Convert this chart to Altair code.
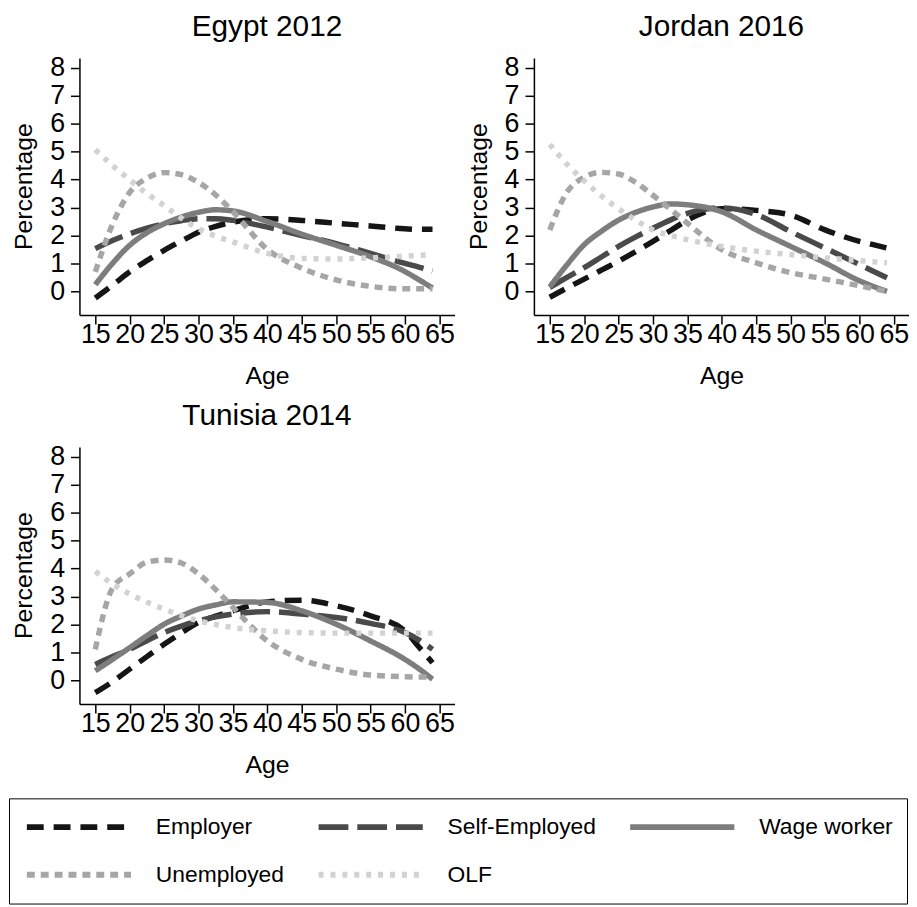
import altair as alt
import pandas as pd

ages = [15, 17.5, 20, 22.5, 25, 27.5, 30, 32.5, 35, 40, 45, 50, 55, 60, 62, 64]
series = ["Employer", "Self-Employed", "Wage worker", "Unemployed", "OLF"]
colors = ["#151515", "#4a4a4a", "#7d7d7d", "#a6a6a6", "#d2d2d2"]
dashes = [[17, 10], [30, 9], [1, 0], [8, 6], [5, 7]]

x_ticks = [15, 20, 25, 30, 35, 40, 45, 50, 55, 60, 65]
y_ticks = [0, 1, 2, 3, 4, 5, 6, 7, 8]

# Egypt 2012
egypt_employer = [-0.24, 0.22, 0.70, 1.10, 1.47, 1.80, 2.12, 2.33, 2.48, 2.60, 2.54, 2.44, 2.34, 2.24, 2.22, 2.22]
egypt_self = [1.53, 1.82, 2.06, 2.26, 2.42, 2.53, 2.60, 2.60, 2.54, 2.30, 2.00, 1.71, 1.36, 1.00, 0.87, 0.73]
egypt_wage = [0.24, 1.00, 1.65, 2.10, 2.42, 2.66, 2.83, 2.92, 2.88, 2.50, 2.05, 1.65, 1.24, 0.71, 0.42, 0.12]
egypt_unemp = [0.70, 2.40, 3.54, 4.05, 4.25, 4.18, 3.90, 3.45, 2.85, 1.50, 0.83, 0.41, 0.18, 0.09, 0.09, 0.09]
egypt_olf = [5.07, 4.50, 4.00, 3.50, 3.07, 2.62, 2.24, 1.98, 1.77, 1.36, 1.18, 1.16, 1.20, 1.26, 1.29, 1.32]

# Jordan 2016
jordan_employer = [-0.21, 0.12, 0.44, 0.76, 1.08, 1.43, 1.79, 2.17, 2.55, 2.96, 2.90, 2.73, 2.20, 1.79, 1.67, 1.55]
jordan_self = [0.14, 0.50, 0.85, 1.23, 1.61, 1.95, 2.26, 2.55, 2.79, 2.99, 2.75, 2.14, 1.55, 0.96, 0.72, 0.49]
jordan_wage = [0.16, 0.95, 1.67, 2.15, 2.55, 2.83, 3.02, 3.13, 3.10, 2.85, 2.20, 1.61, 1.02, 0.38, 0.18, 0.00]
jordan_unemp = [2.20, 3.55, 4.08, 4.26, 4.20, 3.90, 3.44, 2.95, 2.44, 1.49, 1.02, 0.67, 0.44, 0.20, 0.10, 0.00]
jordan_olf = [5.26, 4.55, 3.96, 3.42, 2.96, 2.55, 2.20, 2.00, 1.85, 1.61, 1.44, 1.32, 1.20, 1.10, 1.06, 1.02]

# Tunisia 2014
tunisia_employer = [-0.44, -0.05, 0.40, 0.85, 1.29, 1.70, 2.07, 2.30, 2.49, 2.81, 2.87, 2.67, 2.31, 1.77, 1.20, 0.63]
tunisia_self = [0.57, 0.85, 1.11, 1.42, 1.71, 1.94, 2.13, 2.27, 2.37, 2.46, 2.37, 2.25, 2.04, 1.71, 1.45, 1.11]
tunisia_wage = [0.34, 0.75, 1.17, 1.60, 2.01, 2.30, 2.55, 2.70, 2.81, 2.79, 2.49, 2.01, 1.41, 0.75, 0.42, 0.04]
tunisia_unemp = [1.11, 3.30, 3.81, 4.23, 4.31, 4.20, 3.81, 3.25, 2.61, 1.41, 0.75, 0.40, 0.19, 0.13, 0.12, 0.12]
tunisia_olf = [3.90, 3.45, 3.09, 2.80, 2.55, 2.32, 2.13, 2.00, 1.89, 1.77, 1.71, 1.69, 1.69, 1.69, 1.69, 1.69]

panels = {
    "Egypt 2012": [egypt_employer, egypt_self, egypt_wage, egypt_unemp, egypt_olf],
    "Jordan 2016": [jordan_employer, jordan_self, jordan_wage, jordan_unemp, jordan_olf],
    "Tunisia 2014": [tunisia_employer, tunisia_self, tunisia_wage, tunisia_unemp, tunisia_olf],
}

rows = []
for country, lists in panels.items():
    for s, vals in zip(series, lists):
        for a, v in zip(ages, vals):
            rows.append({"country": country, "series": s, "age": a, "value": v})
df = pd.DataFrame(rows)

FONT = "Liberation Sans"

legend = alt.Legend(
    title=None,
    orient="none",
    direction="horizontal",
    legendX=-71,
    legendY=746,
    columns=3,
    symbolType="stroke",
    symbolSize=11025,
    symbolStrokeWidth=6,
    clipHeight=30,
    symbolOffset=1,
    labelOffset=22,
    columnPadding=30,
    rowPadding=18,
    padding=14,
    strokeColor="black",
    labelFont=FONT,
    labelFontSize=23,
    labelColor="black",
    labelLimit=400,
)


def panel(country):
    return (
        alt.Chart(df[df["country"] == country])
        .mark_line(strokeWidth=5.5, strokeCap="butt", interpolate="monotone")
        .encode(
            x=alt.X(
                "age:Q",
                scale=alt.Scale(domain=[12.7, 67.2], nice=False, zero=False),
                axis=alt.Axis(values=x_ticks, title="Age", titleY=69),
            ),
            y=alt.Y(
                "value:Q",
                scale=alt.Scale(domain=[-0.85, 8.35], nice=False, zero=False),
                axis=alt.Axis(values=y_ticks, title="Percentage", titleX=-48, titleY=129),
            ),
            color=alt.Color("series:N", scale=alt.Scale(domain=series, range=colors), legend=legend),
            strokeDash=alt.StrokeDash("series:N", scale=alt.Scale(domain=series, range=dashes), legend=legend),
        )
        .properties(width=378, height=259, title=alt.Title(country))
    )


chart = (
    alt.concat(
        panel("Egypt 2012"),
        panel("Jordan 2016"),
        panel("Tunisia 2014"),
        columns=2,
        spacing={"row": 133, "column": 80},
        bounds="flush",
    )
    .resolve_scale(color="shared", strokeDash="shared")
    .resolve_legend(color="shared", strokeDash="shared")
    .properties(padding=0)
    .configure_view(stroke=None)
    .configure_axis(
        grid=False,
        domainColor="black",
        domainWidth=1.5,
        tickColor="black",
        tickWidth=1.5,
        tickSize=9,
        labelFont=FONT,
        labelFontSize=27,
        labelColor="black",
        labelOverlap=False,
        labelFlush=False,
        titleFont=FONT,
        titleFontSize=25,
        titleFontWeight="normal",
        titleColor="black",
        titleBaseline="alphabetic",
    )
    .configure_axisX(labelBaseline="alphabetic", labelPadding=19, titleAlign="center")
    .configure_axisY(labelPadding=6, titleAngle=270, titleAlign="center")
    .configure_title(
        font=FONT,
        fontSize=30,
        fontWeight="normal",
        color="black",
        anchor="middle",
        baseline="alphabetic",
        offset=12,
    )
)

chart.save("out.html", embed_options={"renderer": "svg", "actions": False})
